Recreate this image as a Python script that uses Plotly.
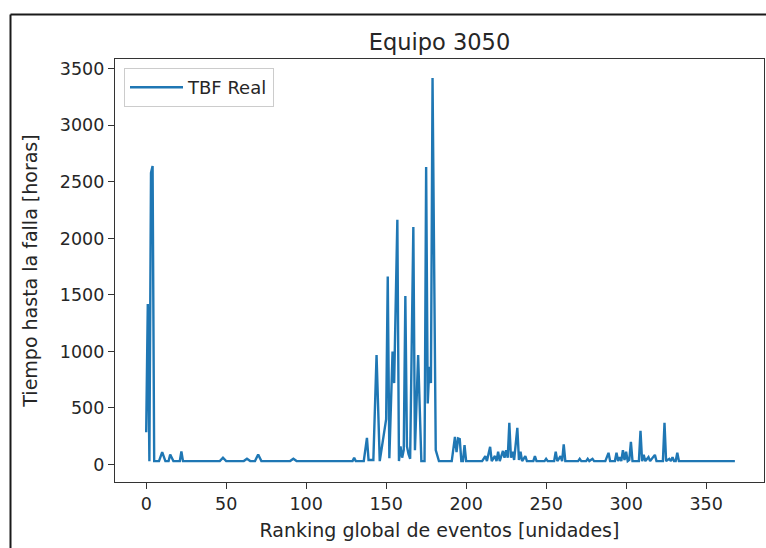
import plotly.graph_objects as go

# Global event ranking (x) and time between failures in hours (y) for equipment 3050
ranking = [
    0, 1, 2, 3, 4, 5, 8, 10, 12, 14, 15, 17, 21, 22, 23, 46, 48, 50, 61, 63, 65, 68, 70, 72,
    90, 92, 94, 129, 130, 131, 136, 138, 139, 142, 144, 146, 150, 151, 152, 153, 154, 155,
    157, 158, 159, 160, 161, 162, 163, 164, 165, 167, 168, 170, 172, 174, 175, 176, 177, 178,
    179, 181, 183, 191, 193, 194, 195, 196, 197, 198, 199, 200, 210, 212, 213, 215, 216, 218,
    219, 220, 221, 223, 224, 225, 226, 227, 228, 229, 230, 232, 233, 234, 235, 237, 238, 242,
    243, 244, 249, 250, 251, 255, 256, 257, 259, 260, 261, 262, 270, 271, 272, 275, 276, 277,
    279, 280, 287, 289, 290, 293, 294, 295, 296, 297, 298, 299, 300, 301, 302, 303, 304, 308,
    309, 310, 311, 312, 314, 315, 318, 319, 323, 324, 325, 327, 328, 329, 330, 331, 332, 333,
    368,
]
tbf_hours = [
    285, 1420, 28, 2580, 2640, 30, 30, 110, 30, 30, 88, 30, 30, 115, 30, 30, 60, 30, 30, 50, 30, 30, 88, 30,
    30, 50, 30, 30, 60, 30, 30, 235, 40, 40, 968, 30, 400, 1663, 56, 545, 1000, 720,
    2165, 30, 160, 60, 130, 1490, 160, 90, 50, 2100, 127, 968, 30, 30, 2632, 540, 864, 720,
    3418, 127, 30, 30, 244, 110, 230, 224, 30, 30, 171, 30, 30, 73, 30, 156, 30, 75,
    30, 112, 30, 120, 60, 125, 60, 368, 60, 112, 40, 324, 40, 112, 30, 73, 30, 30,
    73, 30, 30, 50, 30, 30, 112, 30, 73, 30, 177, 30, 30, 50, 30, 30, 50, 30,
    50, 30, 30, 103, 30, 30, 103, 30, 65, 30, 127, 40, 112, 30, 40, 200, 30, 30,
    298, 30, 85, 30, 65, 30, 85, 30, 30, 368, 30, 50, 30, 65, 30, 30, 103, 30,
    30,
]

x_ticks = [0, 50, 100, 150, 200, 250, 300, 350]
y_ticks = [0, 500, 1000, 1500, 2000, 2500, 3000, 3500]

text_color = "#262626"
spine_color = "#333333"
font_family = "DejaVu Sans"

fig = go.Figure()
fig.add_trace(go.Scatter(
    x=ranking,
    y=tbf_hours,
    mode="lines",
    name="TBF Real",
    line=dict(color="#1f77b4", width=2.4),
))

axis_common = dict(
    showgrid=False,
    zeroline=False,
    showline=True,
    linecolor=spine_color,
    linewidth=1.2,
    mirror=True,
    ticks="outside",
    ticklen=6,
    tickwidth=1.2,
    tickcolor=spine_color,
    tickfont=dict(family=font_family, size=17.5, color=text_color),
)

fig.update_layout(
    width=766,
    height=548,
    margin=dict(l=115, r=2, t=59, b=66),
    paper_bgcolor="white",
    plot_bgcolor="white",
    font=dict(family=font_family, color=text_color),
    title=dict(
        text="Equipo 3050",
        font=dict(family=font_family, size=22.5, color=text_color),
        x=0.5, xref="paper", xanchor="center",
        y=1 - 42 / 548, yref="container", yanchor="middle",
    ),
    xaxis=dict(
        axis_common,
        range=[-19.5, 386.2],
        tickvals=x_ticks,
        ticktext=[str(v) for v in x_ticks],
        title=dict(text="Ranking global de eventos [unidades]",
                   font=dict(family=font_family, size=19, color=text_color),
                   standoff=10),
    ),
    yaxis=dict(
        axis_common,
        range=[-155, 3587],
        tickvals=y_ticks,
        ticktext=[str(v) for v in y_ticks],
        title=dict(text="Tiempo hasta la falla [horas]",
                   font=dict(family=font_family, size=19, color=text_color),
                   standoff=17),
    ),
    showlegend=True,
    legend=dict(
        x=(124 - 115) / 649, y=1 - (68 - 59) / 423,
        xanchor="left", yanchor="top",
        bgcolor="white",
        bordercolor="#cccccc",
        borderwidth=1,
        font=dict(family=font_family, size=18, color=text_color),
        itemwidth=53,
    ),
)

# Outer frame around the figure (left and top edges)
frame_left = (10.5 - 115) / 649
frame_top = 1 + (59 - 14.5) / 423
fig.add_shape(type="line", xref="paper", yref="paper",
              x0=frame_left, x1=frame_left, y0=-0.2, y1=frame_top,
              line=dict(color="#1a1a1a", width=2))
fig.add_shape(type="line", xref="paper", yref="paper",
              x0=frame_left, x1=1.01, y0=frame_top, y1=frame_top,
              line=dict(color="#1a1a1a", width=2))

fig.write_html("out.html")
